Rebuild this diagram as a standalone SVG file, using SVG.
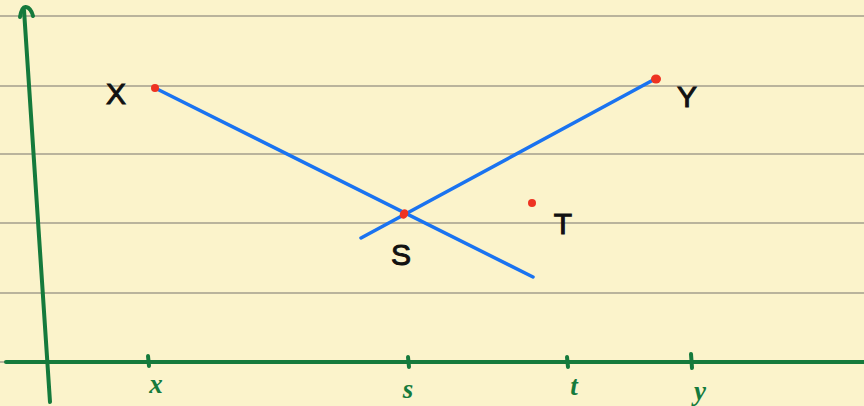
<svg xmlns="http://www.w3.org/2000/svg" width="864" height="406" viewBox="0 0 864 406">
<style>
.rule{stroke:#a39e8c;stroke-width:1.5}
.axis{stroke:#157a3c;stroke-width:4;fill:none;stroke-linecap:round}
.tick{stroke:#157a3c;stroke-width:4;stroke-linecap:round}
.seg{stroke:#1a73f0;stroke-width:3.5;stroke-linecap:round}
.dot{fill:#ee3322}
.lbl{font-family:"Liberation Sans",Arial,sans-serif;font-size:30px;fill:#111;stroke:#111;stroke-width:1;text-anchor:middle}
.alb{font-family:"Liberation Serif",serif;font-style:italic;font-weight:bold;font-size:27px;fill:#157a3c;text-anchor:middle}
</style>
<rect width="864" height="406" fill="#fbf3cb"/>
<g id="rules">
<line class="rule" x1="0" y1="16" x2="864" y2="16"/>
<line class="rule" x1="0" y1="86" x2="864" y2="86"/>
<line class="rule" x1="0" y1="154" x2="864" y2="154"/>
<line class="rule" x1="0" y1="223" x2="864" y2="223"/>
<line class="rule" x1="0" y1="293" x2="864" y2="293"/>
<line class="rule" x1="0" y1="362" x2="864" y2="362"/>
</g>
<g id="axes">
<path class="axis" d="M24 10 L50 402"/>
<path class="axis" d="M20 17 Q22 6 26 7 Q31 8 33 16"/>
<path class="axis" d="M6 362 L864 362"/>
<line class="tick" x1="148" y1="356" x2="149" y2="366"/>
<line class="tick" x1="408" y1="357" x2="409" y2="367"/>
<line class="tick" x1="567" y1="357" x2="568" y2="367"/>
<line class="tick" x1="691" y1="354" x2="692" y2="368"/>
<text class="alb" x="156" y="393">x</text>
<text class="alb" x="408" y="398">s</text>
<text class="alb" x="574" y="395">t</text>
<text class="alb" x="700" y="400">y</text>
</g>
<g id="connectors">
<line class="seg" x1="155" y1="88" x2="533" y2="277"/>
<line class="seg" x1="361" y1="238" x2="655" y2="79"/>
</g>
<g id="node-X">
<circle class="dot" cx="155" cy="88" r="4"/>
<text class="lbl" x="116" y="104">X</text>
</g>
<g id="node-Y">
<ellipse class="dot" cx="656" cy="79" rx="5" ry="4.5"/>
<text class="lbl" x="687" y="107">Y</text>
</g>
<g id="node-S">
<ellipse class="dot" cx="404" cy="214" rx="4" ry="5" transform="rotate(30 404 214)"/>
<text class="lbl" x="401" y="265">S</text>
</g>
<g id="node-T">
<circle class="dot" cx="532" cy="203" r="4"/>
<text class="lbl" x="563" y="234">T</text>
</g>
</svg>
